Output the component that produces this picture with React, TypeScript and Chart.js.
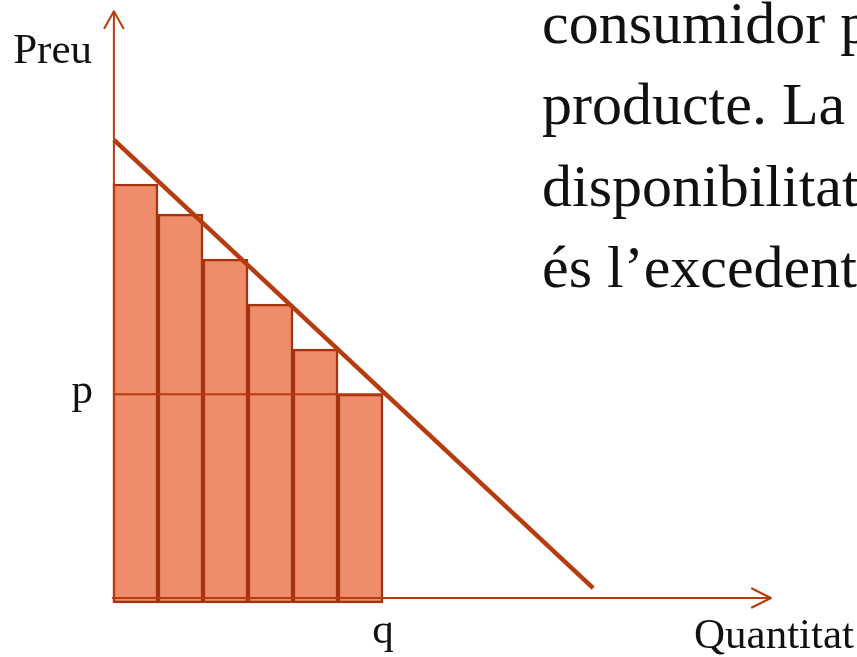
import { useEffect, useRef } from "react";
import { Chart, registerables } from "chart.js";

Chart.register(...registerables);

// Units bought, one bar per unit (bar centres on the quantity axis)
const unitCentres = [0.5, 1.5, 2.5, 3.5, 4.5, 5.5];
// Willingness to pay for each successive unit
const willingnessToPay = [9.2, 8.53, 7.53, 6.53, 5.53, 4.53];
// Bars start just under the quantity axis
const barBase = -0.11;

// Market price p and quantity q
const marketPrice = 4.53;
const marketQuantity = 6;

// Demand curve end points
const demandQuantity = [0.02, 10.67];
const demandPrice = [10.18, 0.22];

// Axis extents
const priceAxisTop = 13.04;
const quantityAxisEnd = 14.62;

// Text
const priceLabel = "Preu";
const quantityLabel = "Quantitat";
const pLabel = "p";
const qLabel = "q";
const bodyLines = ["consumidor p", "producte. La", "disponibilitat", "és l’excedent"];

const LINE_COLOR = "#B63C0F";
const BAR_FILL = "#EF8C6A";
const BAR_BORDER = "#A5330D";
const SERIF = '"Liberation Serif", "Times New Roman", serif';

const annotations = {
  id: "annotations",
  afterDatasetsDraw(chart: any) {
    const { ctx, scales } = chart;
    const xs = scales.x;
    const ys = scales.y;
    const x0 = xs.getPixelForValue(0.02);
    const yTop = ys.getPixelForValue(priceAxisTop);
    const xEnd = xs.getPixelForValue(quantityAxisEnd);
    const y0 = ys.getPixelForValue(0);

    ctx.save();
    ctx.strokeStyle = LINE_COLOR;
    ctx.lineWidth = 2;
    ctx.lineCap = "round";
    ctx.lineJoin = "round";
    // arrowhead on the price axis
    ctx.beginPath();
    ctx.moveTo(x0 - 9.5, yTop + 17);
    ctx.lineTo(x0, yTop);
    ctx.lineTo(x0 + 9.5, yTop + 17);
    ctx.stroke();
    // arrowhead on the quantity axis
    ctx.beginPath();
    ctx.moveTo(xEnd - 19, y0 - 9.5);
    ctx.lineTo(xEnd, y0);
    ctx.lineTo(xEnd - 19, y0 + 9.5);
    ctx.stroke();

    ctx.fillStyle = "#111";
    ctx.font = `43px ${SERIF}`;
    ctx.textBaseline = "alphabetic";
    ctx.textAlign = "right";
    ctx.fillText(priceLabel, 92, 63);
    ctx.fillText(pLabel, 93, ys.getPixelForValue(marketPrice) + 9);
    ctx.textAlign = "center";
    ctx.fillText(qLabel, xs.getPixelForValue(marketQuantity), 643);
    ctx.textAlign = "right";
    ctx.fillText(quantityLabel, 854, 648);

    ctx.font = `60px ${SERIF}`;
    ctx.textAlign = "left";
    bodyLines.forEach((line, i) => {
      ctx.fillText(line, 542, 43 + i * 81.3);
    });
    ctx.restore();
  },
};

export default function App() {
  const canvasRef = useRef<HTMLCanvasElement | null>(null);

  useEffect(() => {
    if (!canvasRef.current) return;
    const chart = new Chart(canvasRef.current, {
      type: "bar",
      data: {
        datasets: [
          {
            type: "bar",
            data: unitCentres.map((x, i) => ({ x, y: [barBase, willingnessToPay[i]] })) as any,
            backgroundColor: BAR_FILL,
            borderColor: BAR_BORDER,
            borderWidth: 2.5,
            borderSkipped: false,
            barPercentage: 1,
            categoryPercentage: 1,
            order: 10,
            clip: false as any,
          },
          {
            type: "line",
            data: [
              { x: 0.02, y: barBase },
              { x: 0.02, y: priceAxisTop },
            ],
            borderColor: LINE_COLOR,
            borderWidth: 2,
            pointRadius: 0,
            order: 5,
            clip: false as any,
          },
          {
            type: "line",
            data: [
              { x: -0.02, y: 0 },
              { x: quantityAxisEnd, y: 0 },
            ],
            borderColor: LINE_COLOR,
            borderWidth: 2,
            pointRadius: 0,
            order: 5,
            clip: false as any,
          },
          {
            type: "line",
            data: [
              { x: 0, y: marketPrice },
              { x: marketQuantity, y: marketPrice },
            ],
            borderColor: LINE_COLOR,
            borderWidth: 2,
            pointRadius: 0,
            order: 4,
            clip: false as any,
          },
          {
            type: "line",
            data: demandQuantity.map((x, i) => ({ x, y: demandPrice[i] })),
            borderColor: LINE_COLOR,
            borderWidth: 4.5,
            borderCapStyle: "butt",
            pointRadius: 0,
            order: 1,
            clip: false as any,
          },
        ] as any,
      },
      options: {
        responsive: false,
        animation: false,
        events: [],
        layout: { padding: { left: 113, right: 24, top: 13, bottom: 59 } },
        plugins: { legend: { display: false }, tooltip: { enabled: false } },
        scales: {
          x: { type: "linear", min: 0, max: 16, offset: false, display: false },
          y: { type: "linear", min: 0, max: 13, display: false },
        },
      },
      plugins: [annotations],
    });
    return () => chart.destroy();
  }, []);

  return (
    <div style={{ position: "fixed", left: 0, top: 0, width: 857, height: 657, background: "#fff" }}>
      <canvas ref={canvasRef} width={857} height={657} style={{ display: "block" }} />
    </div>
  );
}
